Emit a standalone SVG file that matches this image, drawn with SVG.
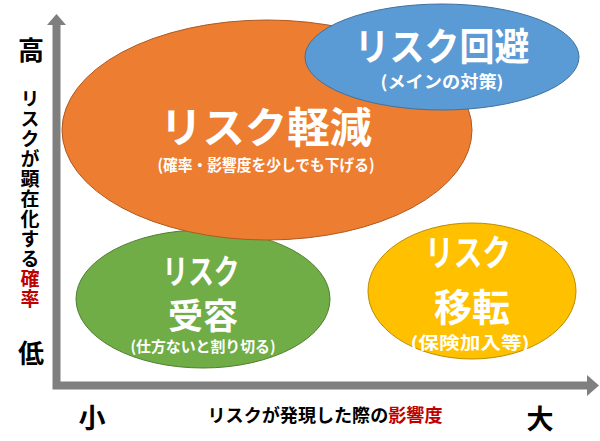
<svg xmlns="http://www.w3.org/2000/svg" width="600" height="441" viewBox="0 0 600 441">
<defs>
<style>
text{font-family:"Noto Sans CJK JP","Noto Sans",sans-serif;font-weight:700;text-anchor:middle}
.w{fill:#fff}
.k{fill:#000}
.r{fill:#C00000}
.v{writing-mode:vertical-rl;text-anchor:start}
.ax{stroke:#7F7F7F;stroke-width:8;fill:none}
.ah{fill:#7F7F7F}
</style>
</defs>
<g id="axes">
<path class="ax" d="M56.5,24 V385.5 H588"/>
<polygon class="ah" points="56.5,14 66,25 47,25"/>
<polygon class="ah" points="599,385.5 587,375 587,396"/>
<text class="k" x="31" y="60" font-size="26">高</text>
<text class="k" x="31" y="363" font-size="26">低</text>
<text class="k v" x="30" y="89" font-size="19" textLength="219" lengthAdjust="spacing">リスクが顕在化する<tspan class="r">確率</tspan></text>
<text class="k" x="92" y="428" font-size="27">小</text>
<text class="k" x="540" y="429" font-size="27">大</text>
<text class="k" x="325" y="422" font-size="18" textLength="235" lengthAdjust="spacingAndGlyphs">リスクが発現した際の<tspan class="r">影響度</tspan></text>
</g>
<g id="accept">
<ellipse cx="203" cy="299" rx="127" ry="69" fill="#70AD47" stroke="#507E32" stroke-width="1"/>
<text class="w" x="201" y="284" font-size="34" textLength="77" lengthAdjust="spacingAndGlyphs">リスク</text>
<text class="w" x="203" y="329" font-size="35">受容</text>
<text class="w" x="203" y="352" font-size="15" textLength="145" lengthAdjust="spacingAndGlyphs">(仕方ないと割り切る)</text>
</g>
<g id="transfer">
<ellipse cx="472" cy="291" rx="104" ry="68" fill="#FFC000" stroke="#BC8C00" stroke-width="1"/>
<text class="w" x="468" y="266" font-size="36" textLength="86" lengthAdjust="spacingAndGlyphs">リスク</text>
<text class="w" x="472" y="321" font-size="38">移転</text>
<text class="w" x="470" y="349" font-size="17" textLength="119" lengthAdjust="spacingAndGlyphs">(保険加入等)</text>
</g>
<g id="mitigate">
<ellipse cx="267" cy="130" rx="205" ry="110" fill="#ED7D31" stroke="#AE5A21" stroke-width="1"/>
<text class="w" x="266" y="143" font-size="42" textLength="212" lengthAdjust="spacingAndGlyphs">リスク軽減</text>
<text class="w" x="266" y="171" font-size="16" textLength="217" lengthAdjust="spacingAndGlyphs">(確率・影響度を少しでも下げる)</text>
</g>
<g id="avoid">
<ellipse cx="442" cy="57" rx="137" ry="53" fill="#5B9BD5" stroke="#41719C" stroke-width="1"/>
<text class="w" x="442" y="60" font-size="38" textLength="175" lengthAdjust="spacingAndGlyphs">リスク回避</text>
<text class="w" x="442" y="88" font-size="17" textLength="123" lengthAdjust="spacingAndGlyphs">(メインの対策)</text>
</g>
<g id="connectors"></g>
</svg>
